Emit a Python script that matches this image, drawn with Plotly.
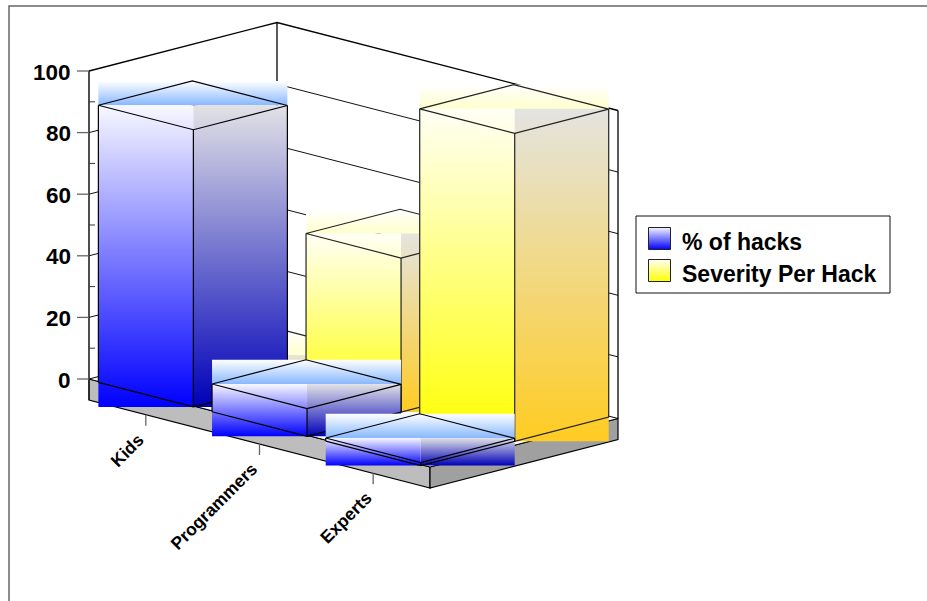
import plotly.graph_objects as go

# ---- data ----
categories = ["Kids", "Programmers", "Experts"]
pct_hacks = [90, 9, 1]
severity = [1, 50, 100]
major_ticks = [0, 20, 40, 60, 80, 100]
minor_ticks = [10, 30, 50, 70, 90]
series_names = ["% of hacks", "Severity Per Hack"]

# ---- oblique projection of the chart space ----
OX, OY = 89.0, 379.0          # floor, left corner
UX, UY = 341.0, 88.0          # category direction
VX, VY = 188.0, -48.5         # depth direction
K = 3.08                      # px per value unit
SLAB = 21.0
BAR_U = 0.2786
BAR_OFF = 0.0275
BAR_DY = 1.0
FONT = "Liberation Sans, Arial, sans-serif"


def P(u, v, h=0.0):
    return OX + UX * u + VX * v, OY + UY * u + VY * v - K * h


fig = go.Figure()


def poly(points, fill=None, line=None, width=1.0):
    xs = [p[0] for p in points]
    ys = [p[1] for p in points]
    if fill is not None:
        xs, ys = xs + [xs[0]], ys + [ys[0]]
    fig.add_trace(go.Scatter(
        x=xs, y=ys, mode="lines" if line else "none",
        fill="toself" if fill else None, fillcolor=fill,
        line=dict(color=line or "rgba(0,0,0,0)", width=width),
        hoverinfo="skip", showlegend=False))


def grad(x0, x1, y0, y1, top, bottom):
    fig.add_trace(go.Scatter(
        x=[x0, x1, x1, x0, x0], y=[y0, y0, y1, y1, y0], mode="none", fill="toself",
        fillgradient=dict(type="vertical", start=y0, stop=y1,
                          colorscale=[[0, top], [1, bottom]]),
        hoverinfo="skip", showlegend=False))


# frame
poly([(9, 601), (9, 6), (927, 6)], line="#666666", width=1.5)

# walls and gridlines
for t in major_ticks[1:-1]:
    poly([P(0, 0, t), P(0, 1, t), P(1, 1, t)], line="#111111", width=1)
poly([P(0, 0, 100), P(0, 1, 100), P(1, 1, 100)], line="#000000", width=1.3)
poly([P(0, 1, 0), P(0, 1, 100)], line="#000000", width=1.3)
poly([P(1, 1, 0), P(1, 1, 100)], line="#000000", width=1.3)

# floor slab
drop = SLAB / K
poly([P(0, 0), P(1, 0), P(1, 0, -drop), P(0, 0, -drop)], fill="#bdbdbd", line="#000000", width=1.2)
poly([P(1, 0), P(1, 1), P(1, 1, -drop), P(1, 0, -drop)], fill="#a0a0a0", line="#000000", width=1.2)
poly([P(0, 0), P(1, 0), P(1, 1), P(0, 1)], fill="#ffffff", line="#000000", width=1.0)

# y axis
poly([P(0, 0, -drop), P(0, 0, 100)], line="#222222", width=1.6)
for t in major_ticks:
    x, y = P(0, 0, t)
    poly([(x - 12, y), (x, y)], line="#666666", width=1.3)
    fig.add_annotation(x=x - 16, y=y + 1, text=f"<b>{t}</b>", showarrow=False, xanchor="right",
                       yanchor="middle", font=dict(family=FONT, size=22.5, color="#000000"))
for t in minor_ticks:
    x, y = P(0, 0, t)
    poly([(x, y), (x + 6, y)], line="#333333", width=1)

# category ticks and labels
for i, c in enumerate(categories):
    x, y = P((i + 0.5) / 3, 0, -drop)
    poly([(x, y), (x, y + 11)], line="#666666", width=1.3)
    fig.add_annotation(x=x + 5, y=y + 12, text=f"<b>{c}</b>", showarrow=False, textangle=-45,
                       xanchor="right", yanchor="top",
                       font=dict(family=FONT, size=17.5, color="#000000"))

BLUE = dict(top0="#ffffff", top1="#88b8ff", left0="#f8f8ff", left1="#0000ff",
            right0="#e2e2e6", right1="#0000b8")
YELLOW = dict(top0="#ffffff", top1="#ffffcc", left0="#fffff6", left1="#ffff00",
              right0="#e4e4e0", right1="#ffcc22")
EDGE = {"b": "#000000", "y": "#222222"}


def bar(i, row, value, col, edge):
    u0 = i / 3 + BAR_OFF
    u1 = u0 + BAR_U
    v0, v1 = row * 0.5, row * 0.5 + 0.5

    def Q(u, v, h=0.0):
        x, y = P(u, v, h)
        return x, y + BAR_DY

    left_t, front_t, right_t, back_t = Q(u0, v0, value), Q(u1, v0, value), Q(u1, v1, value), Q(u0, v1, value)
    left_b, front_b, right_b = Q(u0, v0), Q(u1, v0), Q(u1, v1)
    grad(left_t[0], right_t[0], back_t[1], left_t[1], col["top0"], col["top1"])
    grad(left_t[0], front_t[0], left_t[1], front_b[1], col["left0"], col["left1"])
    grad(front_t[0], right_t[0], left_t[1], front_b[1], col["right0"], col["right1"])
    poly([left_t, front_t, right_t, back_t, left_t], line=edge, width=1.2)
    poly([left_b, left_t], line=edge, width=1.2)
    poly([left_b, front_b, right_b, right_t], line=edge, width=1.2)
    poly([front_b, front_t], line=edge, width=1.2)


for i, val in enumerate(severity):
    bar(i, 1, val, YELLOW, EDGE["y"])
for i, val in enumerate(pct_hacks):
    bar(i, 0, val, BLUE, EDGE["b"])

# legend
poly([(636, 216), (890, 216), (890, 293), (636, 293)], fill="#ffffff", line="#111111", width=1)
for k, (name, col) in enumerate(zip(series_names, ["#0000ff", "#ffff00"])):
    y0 = 227.5 + k * 32
    grad(648.5, 670.5, y0, y0 + 22, "#f4f4ff" if k == 0 else "#fffff6", col)
    poly([(648.5, y0), (648.5, y0 + 22), (670.5, y0 + 22), (670.5, y0), (648.5, y0)], line="#222222", width=1)
    fig.add_annotation(x=680, y=y0 + 14, text=f"<b>{name}</b>", showarrow=False, xanchor="left",
                       yanchor="middle", font=dict(family=FONT, size=23, color="#000000"))

fig.update_layout(
    width=927, height=601, margin=dict(l=0, r=0, t=0, b=0),
    paper_bgcolor="#ffffff", plot_bgcolor="#ffffff", showlegend=False,
    xaxis=dict(range=[0, 927], visible=False, fixedrange=True),
    yaxis=dict(range=[601, 0], visible=False, fixedrange=True),
)
fig.write_html("out.html", config={"displayModeBar": False},
               post_script="document.body.style.margin='0';document.body.style.overflow='hidden';")
